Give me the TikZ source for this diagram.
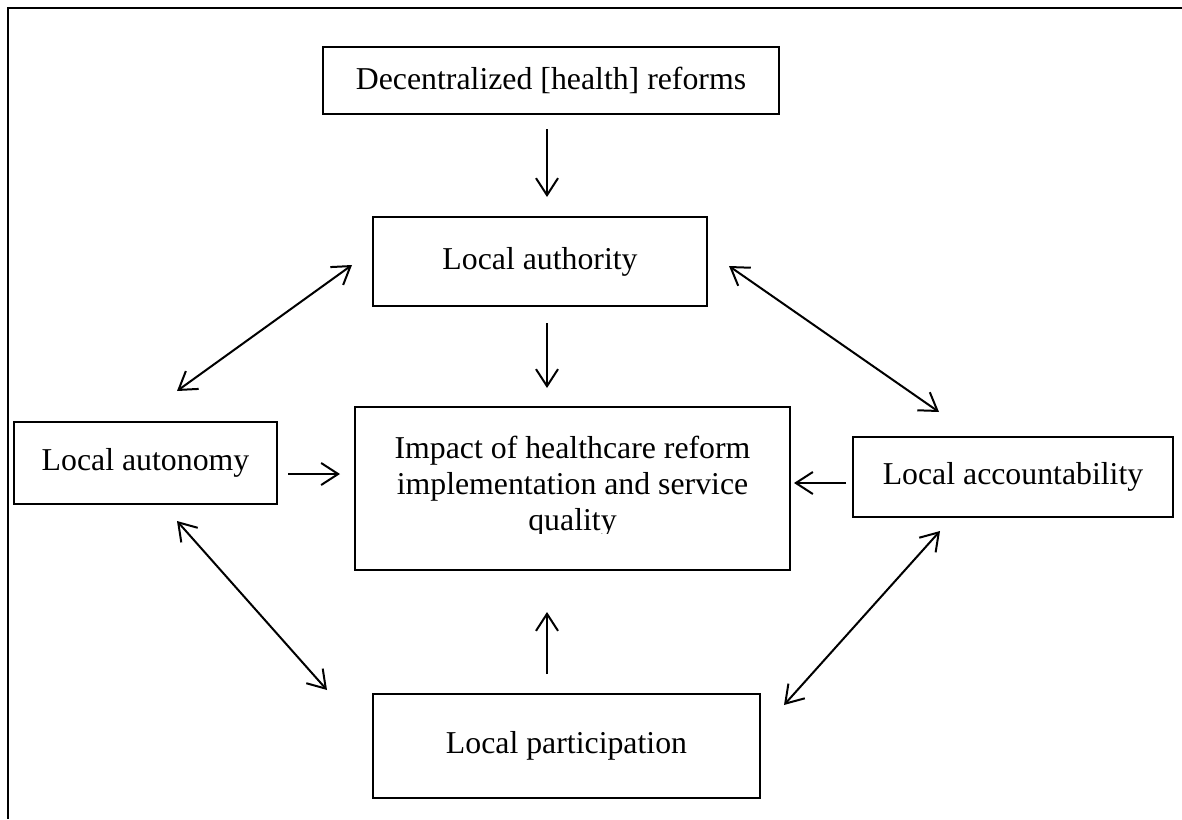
\documentclass[tikz,border=0pt]{standalone}
\usepackage{fontspec}
\setmainfont{Liberation Serif}
\usetikzlibrary{arrows.meta,calc}

\begin{document}
\begin{tikzpicture}[x=0.5pt,y=-0.5pt,
  box/.style={draw, rectangle, line width=1pt, inner sep=0pt, align=center,
              font=\fontsize{15.9pt}{18pt}\selectfont},
  link/.style={line width=1pt, -{Straight Barb[length=8.5pt,width=11pt]}},
  twoway/.style={line width=1pt, {Straight Barb[length=8.5pt,width=11pt]}-{Straight Barb[length=8.5pt,width=11pt]}}]

\useasboundingbox (0,0) rectangle (1182,819);

% outer frame (top and left edges)
\draw[line width=1.2pt] (1182,8) -- (8,8) -- (8,819);

% boxes
\node[box, minimum width=228pt, minimum height=33.5pt] (dec)  at (551,80.5)  {Decentralized [health] reforms};
\node[box, minimum width=167pt, minimum height=44.5pt] (auth) at (540,261.5) {Local authority};
\node[box, minimum width=217.5pt, minimum height=81.5pt] (impact) at (572.5,488.5) {};
\node[box, minimum width=131.5pt, minimum height=41pt] (auton) at (145.5,463) {Local autonomy};
\node[box, minimum width=160pt, minimum height=40pt] (acct) at (1013,477) {Local accountability};
\node[box, minimum width=193.5pt, minimum height=52pt] (part) at (566.5,746) {Local participation};

% centre box text, its last line cut at the descenders
\begin{scope}
  \clip (355,407) rectangle (790,533);
  \node[align=center, inner sep=0pt, font=\fontsize{15.9pt}{18pt}\selectfont] (impacttext) at (572.5,487)
    {Impact of healthcare reform\\implementation and service\\quality};
\end{scope}

% reference column and rows for the straight arrows
\coordinate (col) at (547,0);
\coordinate (rowl) at (0,474);
\coordinate (rowr) at (0,483);

% straight arrows
\draw[link, shorten <=7pt, shorten >=9.5pt] (dec.south -| col) -- (auth.north -| col);
\draw[link, shorten <=8pt, shorten >=9pt] (auth.south -| col) -- (impact.north -| col);
\draw[link, shorten <=9.5pt, shorten >=20.5pt] (part.north -| col) -- (impact.south -| col);
\draw[link, shorten <=5pt, shorten >=7pt] (auton.east |- rowl) -- (impact.west |- rowl);
\draw[link, shorten <=3pt, shorten >=1.5pt] (acct.west |- rowr) -- (impact.east |- rowr);

% two-way links between the surrounding boxes
\draw[twoway] ($(auton.north)+(31.5,-30)$) -- ($(auth.west)+(-20,3.5)$);
\draw[twoway] ($(auth.east)+(21,4.5)$) -- ($(acct.north)+(-74,-24)$);
\draw[twoway] ($(auton.south)+(31.5,16)$) -- ($(part.west)+(-45,-56)$);
\draw[twoway] ($(acct.south)+(-73,13)$) -- ($(part.east)+(23,-41)$);

\end{tikzpicture}
\end{document}
